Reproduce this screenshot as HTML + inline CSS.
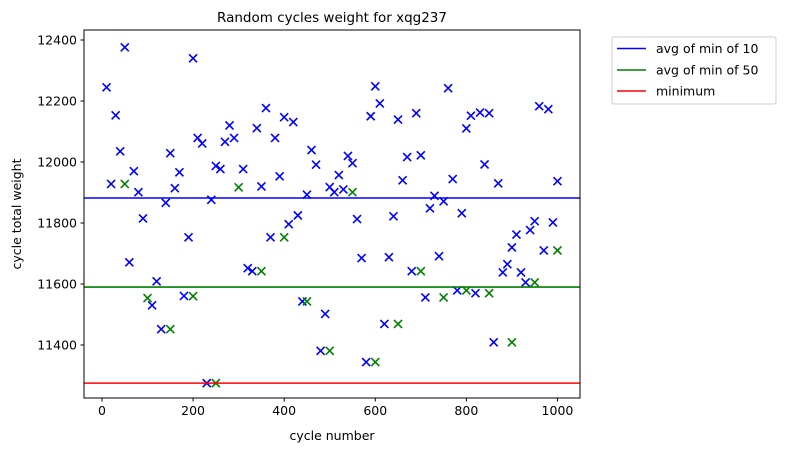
<!DOCTYPE html>
<html><head><meta charset="utf-8">
<style>
html,body{margin:0;padding:0;background:#fff;}
svg{display:block;font-family:"DejaVu Sans","Liberation Sans",sans-serif;}
</style></head>
<body>
<svg id="chart" width="785" height="453" viewBox="0 0 785 453" xmlns="http://www.w3.org/2000/svg">
<rect width="785" height="453" fill="#fff"/>
<text x="332" y="22" font-size="13.5" text-anchor="middle" fill="#000">Random cycles weight for xqg237</text>
<g id="plot"></g>
<rect x="84" y="30" width="496" height="368" fill="none" stroke="#000" stroke-width="1"/>
<text x="332" y="440" font-size="12.5" text-anchor="middle">cycle number</text>
<text transform="translate(21,214) rotate(-90)" font-size="12.5" text-anchor="middle">cycle total weight</text>
<g>
<rect x="612" y="37" width="164" height="67" rx="2" fill="#fff" stroke="#ccc" stroke-width="1"/>
<line x1="617" y1="48.5" x2="646" y2="48.5" stroke="#0000ff" stroke-width="1.5"/>
<text x="656" y="53" font-size="12.5">avg of min of 10</text>
<line x1="617" y1="70" x2="646" y2="70" stroke="#008000" stroke-width="1.5"/>
<text x="656" y="74.5" font-size="12.5">avg of min of 50</text>
<line x1="617" y1="91" x2="646" y2="91" stroke="#ff0000" stroke-width="1.5"/>
<text x="656" y="95.5" font-size="12.5">minimum</text>
</g>
</svg>
<script>
const blueCycles = [10,20,30,40,50,60,70,80,90,110,120,130,140,150,160,170,180,190,200,210,220,230,240,250,260,270,280,290,310,320,330,340,350,360,370,380,390,400,410,420,430,440,450,460,470,480,490,500,510,520,530,540,550,560,570,580,590,600,610,620,630,640,650,660,670,680,690,700,710,720,730,740,750,760,770,780,790,800,810,820,830,840,850,860,870,880,890,900,910,920,930,940,950,960,970,980,990,1000];
const blueValues = [12245,11928,12153,12035,12376,11671,11970,11901,11815,11530,11609,11452,11866,12029,11914,11966,11561,11753,12340,12079,12061,11275,11876,11987,11977,12066,12120,12079,11977,11652,11642,12111,11920,12177,11753,12079,11953,12147,11796,12131,11825,11543,11893,12039,11991,11381,11502,11918,11901,11957,11910,12020,11996,11813,11685,11344,12150,12248,12192,11469,11688,11822,12139,11940,12016,11642,12160,12022,11556,11848,11889,11691,11871,12242,11944,11579,11832,12110,12152,11570,12162,11992,12160,11409,11930,11638,11665,11720,11762,11638,11605,11777,11806,12183,11710,12173,11802,11937];
const greenCycles = [50,100,150,200,250,300,350,400,450,500,550,600,650,700,750,800,850,900,950,1000];
const greenValues = [11928,11554,11452,11560,11275,11917,11642,11753,11543,11381,11901,11344,11469,11642,11556,11579,11570,11409,11605,11710];
const avgMin10 = 11882;
const avgMin50 = 11590;
const minimum = 11275;
const xTicks = [0,200,400,600,800,1000];
const yTicks = [11400,11600,11800,12000,12200,12400];

const NS = "http://www.w3.org/2000/svg";
const plot = document.getElementById('plot');
const X0=84, X1=580, Y0=30, Y1=398;
const xMin=-39.5, xMax=1049.5;
const yMin=12400-(40-30)/0.305, yMax=12400;
const yBot=11400+(398-345)/-0.305*-1;
function xs(v){return X0+(v-xMin)/(xMax-xMin)*(X1-X0);}
function ys(v){return 40+(12400-v)*0.305;}
function mk(tag,attrs){const e=document.createElementNS(NS,tag);for(const k in attrs)e.setAttribute(k,attrs[k]);return e;}

xTicks.forEach(t=>{
  const x=xs(t);
  const l=mk('line',{x1:x,y1:398,x2:x,y2:401.5,stroke:'#000','stroke-width':1});
  
  
  plot.appendChild(l);
  const tx=mk('text',{x:x,y:415,'font-size':12.5,'text-anchor':'middle'});
  
  
  tx.textContent=t; plot.appendChild(tx);
});
yTicks.forEach(t=>{
  const y=ys(t);
  const l=mk('line',{x1:80.5,y1:y,x2:84,y2:y,stroke:'#000','stroke-width':1});
  
  
  plot.appendChild(l);
  const tx=mk('text',{x:77,y:y+4.5,'font-size':12.5,'text-anchor':'end'});
  
  
  tx.textContent=t; plot.appendChild(tx);
});

function cross(cx,cy,color,name){
  const r=4;
  const p=mk('path',{d:`M${cx-r},${cy-r}L${cx+r},${cy+r}M${cx-r},${cy+r}L${cx+r},${cy-r}`,stroke:color,'stroke-width':1.6,fill:'none'});
  
  
  plot.appendChild(p);
}
blueCycles.forEach((c,i)=>cross(xs(c),ys(blueValues[i]),'#0000ff','blue-point'));
greenCycles.forEach((c,i)=>cross(xs(c),ys(greenValues[i]),'#008000','green-point'));

function hline(v,color,name){
  const l=mk('line',{x1:X0,x2:X1,y1:ys(v),y2:ys(v),stroke:color,'stroke-width':1.6});
  
  
  plot.appendChild(l);
}
hline(avgMin10,'#0000ff','avg-min-10-line');
hline(avgMin50,'#008000','avg-min-50-line');
hline(minimum,'#ff0000','minimum-line');
</script>
</body></html>
